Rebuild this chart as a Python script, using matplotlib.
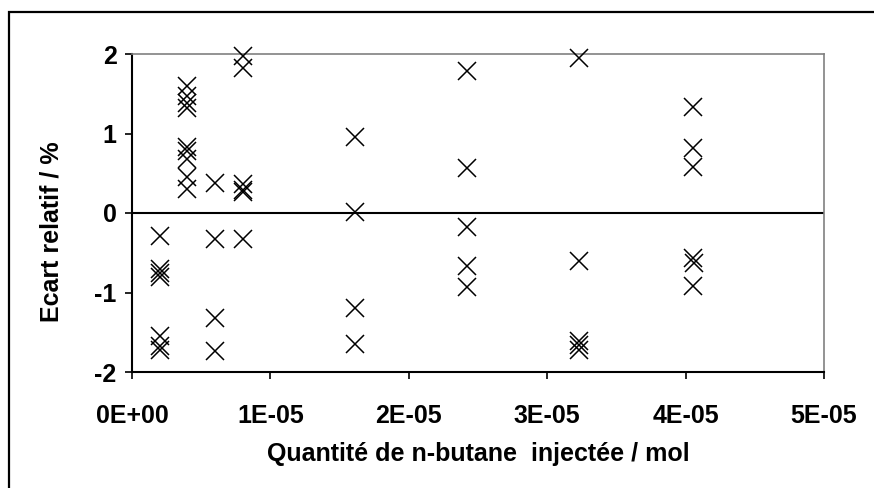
import matplotlib
matplotlib.use("Agg")
import matplotlib.pyplot as plt
from matplotlib.patches import Rectangle

plt.rcParams['font.family'] = ['Liberation Sans', 'DejaVu Sans']
plt.rcParams['font.weight'] = 'bold'
plt.rcParams['axes.unicode_minus'] = False

# quantite injectee (mol) et ecart relatif (%)
x_vals = [2.0e-6, 2.0e-6, 2.0e-6, 2.0e-6, 2.0e-6, 2.0e-6, 2.0e-6,
          4.0e-6, 4.0e-6, 4.0e-6, 4.0e-6, 4.0e-6, 4.0e-6, 4.0e-6, 4.0e-6, 4.0e-6,
          6.0e-6, 6.0e-6, 6.0e-6, 6.0e-6,
          8.0e-6, 8.0e-6, 8.0e-6, 8.0e-6, 8.0e-6, 8.0e-6,
          1.61e-5, 1.61e-5, 1.61e-5, 1.61e-5,
          2.42e-5, 2.42e-5, 2.42e-5, 2.42e-5, 2.42e-5,
          3.23e-5, 3.23e-5, 3.23e-5, 3.23e-5, 3.23e-5,
          4.05e-5, 4.05e-5, 4.05e-5, 4.05e-5, 4.06e-5, 4.05e-5]
y_vals = [-0.29, -0.70, -0.75, -0.80, -1.55, -1.67, -1.72,
          1.60, 1.47, 1.38, 1.32, 0.83, 0.78, 0.68, 0.45, 0.30,
          0.38, -0.33, -1.32, -1.73,
          1.97, 1.83, 0.36, 0.29, 0.26, -0.33,
          0.96, 0.01, -1.20, -1.65,
          1.78, 0.57, -0.18, -0.67, -0.93,
          1.95, -0.60, -1.61, -1.66, -1.72,
          1.33, 0.82, 0.58, -0.56, -0.63, -0.92]

x_ticks = [0, 1e-5, 2e-5, 3e-5, 4e-5, 5e-5]
x_ticklabels = ['0E+00', '1E-05', '2E-05', '3E-05', '4E-05', '5E-05']
y_ticks = [-2, -1, 0, 1, 2]

W, H = 874, 488
fig = plt.figure(figsize=(W / 100, H / 100), dpi=100)
ax = fig.add_axes([132 / W, (H - 372) / H, (824 - 132) / W, (372 - 54) / H])

ax.plot(x_vals, y_vals, linestyle='none', marker='x', color='black',
        markersize=13.5, markeredgewidth=1.1, clip_on=False, zorder=3)
ax.axhline(0, color='black', linewidth=1.5, zorder=2)

ax.set_xlim(0, 5e-5)
ax.set_ylim(-2, 2)
ax.set_xticks(x_ticks)
ax.set_xticklabels(x_ticklabels)
ax.set_yticks(y_ticks)

for side in ['top', 'right']:
    ax.spines[side].set_color('#808080')
    ax.spines[side].set_linewidth(1.2)
for side in ['left', 'bottom']:
    ax.spines[side].set_color('black')
    ax.spines[side].set_linewidth(1.5)

ax.tick_params(axis='both', direction='out', length=5, width=1.2,
               labelsize=18, colors='black')
ax.tick_params(axis='x', pad=18)
ax.tick_params(axis='y', pad=6)

fig.text(52 / W, 1 - 232 / H, 'Ecart relatif / %', rotation=90,
         ha='center', va='center', fontsize=18, fontweight='bold')
fig.text(478 / W, 1 - 454 / H, 'Quantité de n-butane  injectée / mol',
         ha='center', va='center', fontsize=18, fontweight='bold')

# cadre exterieur (coupe a droite et en bas)
fig.patches.append(Rectangle((9 / W, -0.05), 1.1, 1 - 12 / H + 0.05,
                             transform=fig.transFigure, fill=False,
                             edgecolor='black', linewidth=1.6))

fig.savefig('out.png', dpi=100)
